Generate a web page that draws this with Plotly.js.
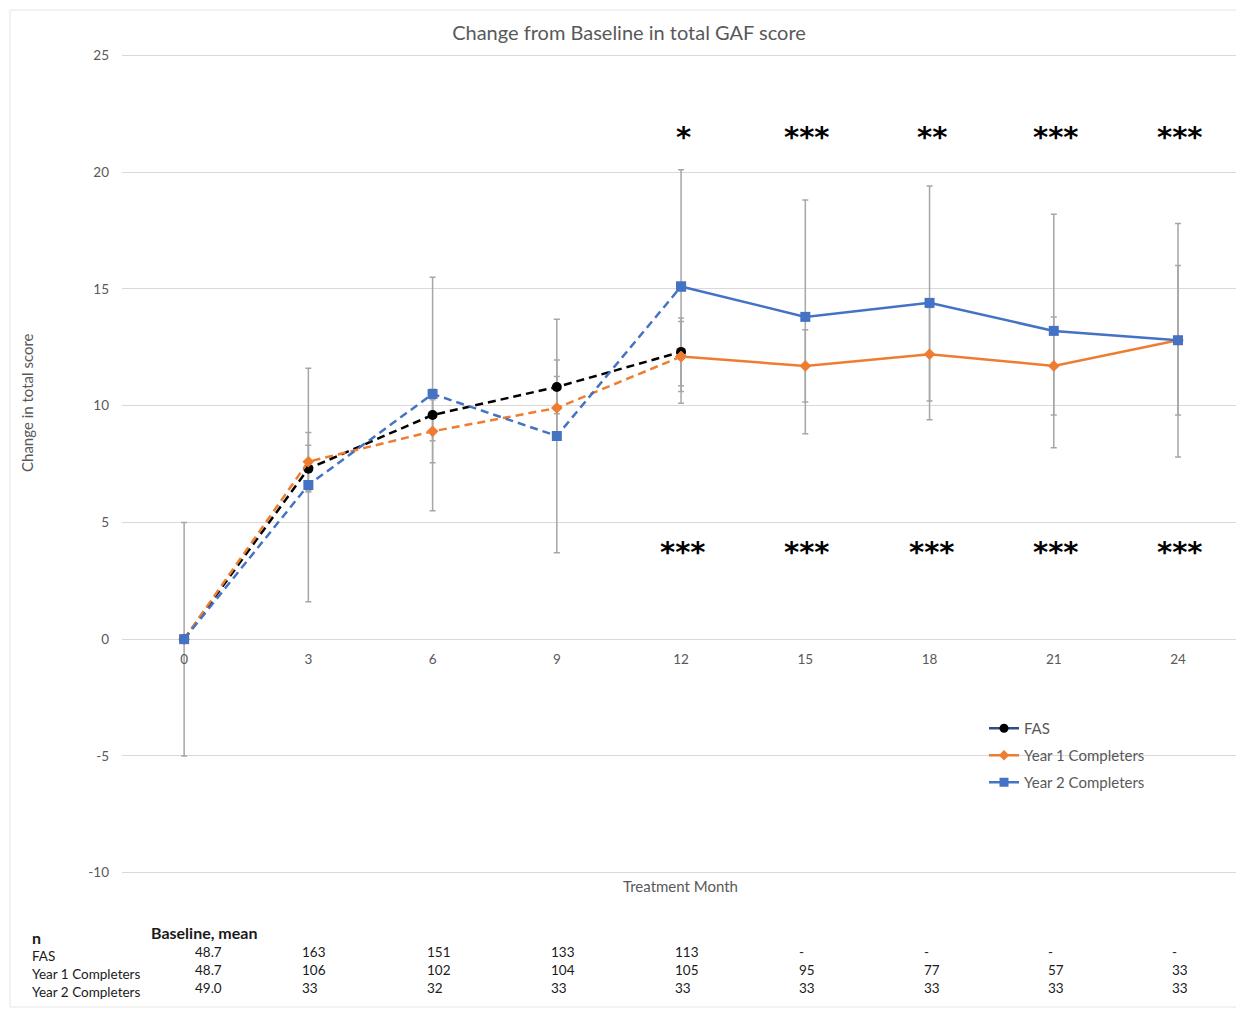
<!DOCTYPE html>
<html>
<head>
<meta charset="utf-8">
<script src="https://cdn.plot.ly/plotly-3.0.1.min.js"></script>
<style>
html,body{margin:0;padding:0;background:#fff;}
#chart{width:1236px;height:1009px;}
</style>
</head>
<body>
<div id="chart"></div>
<script>
// ---- data ----
const months = [0, 3, 6, 9, 12, 15, 18, 21, 24];
const fasMonths = [0, 3, 6, 9, 12];
const fasMean = [0, 7.3, 9.6, 10.8, 12.3];
const fasErr = [0, 1.0, 1.1, 1.15, 1.45];
const y1Mean = [0, 7.6, 8.9, 9.9, 12.1, 11.7, 12.2, 11.7, 12.8];
const y1Err = [0, 1.25, 1.35, 1.35, 1.5, 1.55, 2.0, 2.1, 3.2];
const y2Mean = [0, 6.6, 10.5, 8.7, 15.1, 13.8, 14.4, 13.2, 12.8];
const y2Err = [5.0, 5.0, 5.0, 5.0, 5.0, 5.0, 5.0, 5.0, 5.0];

const yTicks = [-10, -5, 0, 5, 10, 15, 20, 25];
const yTickText = ['-10', '-5', '0', '5', '10', '15', '20', '25'];

const sigMonths = [12, 15, 18, 21, 24];
const sigTop = ['*', '***', '**', '***', '***'];
const sigBottom = ['***', '***', '***', '***', '***'];

const tableRows = ['FAS', 'Year 1 Completers', 'Year 2 Completers'];
const baselineMean = ['48.7', '48.7', '49.0'];
const nMonths = [3, 6, 9, 12, 15, 18, 21, 24];
const nFAS = ['163', '151', '133', '113', '-', '-', '-', '-'];
const nY1 = ['106', '102', '104', '105', '95', '77', '57', '33'];
const nY2 = ['33', '32', '33', '33', '33', '33', '33', '33'];

// ---- styles ----
const FONT = 'Lato, "Open Sans", sans-serif';
const GRAY = '#595959';
const C_FAS = '#000000', C_Y1 = '#ED7D31', C_Y2 = '#4472C4';
const ERR_C = '#a6a6a6';
const DASH = '8px,5px';
const STAR_FONT = {family: '"DejaVu Sans", sans-serif', size: 29, color: '#000', weight: 'bold'};

// pixel helpers for paper coordinates (plot area: x 122..1236, y 53..875)
const PL = 122, PW = 1114, PT = 53, PH = 822;
const px = v => (v - PL) / PW;
const py = v => (PT + PH - v) / PH;

function errTrace(x, y, e) {
  return {
    x: x, y: y, type: 'scatter', mode: 'markers',
    marker: {size: 1, color: 'rgba(0,0,0,0)'},
    error_y: {type: 'data', array: e, visible: true, color: ERR_C, thickness: 1.5, width: 3},
    showlegend: false, hoverinfo: 'skip'
  };
}

const traces = [
  errTrace(months, y2Mean, y2Err),
  errTrace(months, y1Mean, y1Err),
  errTrace(fasMonths, fasMean, fasErr),
  {x: fasMonths, y: fasMean, type: 'scatter', mode: 'lines+markers',
   line: {color: C_FAS, width: 2.5, dash: DASH},
   marker: {symbol: 'circle', size: 10, color: C_FAS}, showlegend: false},
  {x: months.slice(0, 5), y: y1Mean.slice(0, 5), type: 'scatter', mode: 'lines+markers',
   line: {color: C_Y1, width: 2.5, dash: DASH},
   marker: {symbol: 'diamond', size: 9, color: C_Y1}, showlegend: false},
  {x: months.slice(4), y: y1Mean.slice(4), type: 'scatter', mode: 'lines+markers',
   line: {color: C_Y1, width: 2.5},
   marker: {symbol: 'diamond', size: 9, color: C_Y1}, showlegend: false},
  {x: months.slice(0, 5), y: y2Mean.slice(0, 5), type: 'scatter', mode: 'lines+markers',
   line: {color: C_Y2, width: 2.5, dash: DASH},
   marker: {symbol: 'square', size: 10, color: C_Y2}, showlegend: false},
  {x: months.slice(4), y: y2Mean.slice(4), type: 'scatter', mode: 'lines+markers',
   line: {color: C_Y2, width: 2.5},
   marker: {symbol: 'square', size: 10, color: C_Y2}, showlegend: false},
  {x: [null], y: [null], type: 'scatter', mode: 'lines+markers', name: 'FAS', legendgroup: 'a',
   line: {color: '#2f4b8c', width: 2.5}, marker: {symbol: 'circle', size: 9, color: C_FAS}},
  {x: [null], y: [null], type: 'scatter', mode: 'lines+markers', name: 'Year 1 Completers', legendgroup: 'b',
   line: {color: C_Y1, width: 2.5}, marker: {symbol: 'diamond', size: 8, color: C_Y1}},
  {x: [null], y: [null], type: 'scatter', mode: 'lines+markers', name: 'Year 2 Completers', legendgroup: 'c',
   line: {color: C_Y2, width: 2.5}, marker: {symbol: 'square', size: 9, color: C_Y2}}
];

const annotations = [];
sigMonths.forEach((m, i) => {
  annotations.push({x: m, y: 21.5, xref: 'x', yref: 'y', text: sigTop[i], showarrow: false,
    xanchor: 'center', yanchor: 'middle', font: STAR_FONT, xshift: 2});
  annotations.push({x: m, y: 3.75, xref: 'x', yref: 'y', text: sigBottom[i], showarrow: false,
    xanchor: 'center', yanchor: 'middle', font: STAR_FONT, xshift: 2});
});
annotations.push({x: px(27), y: py(403), xref: 'paper', yref: 'paper', text: 'Change in total score',
  textangle: -90, showarrow: false, xanchor: 'center', yanchor: 'middle',
  font: {family: FONT, size: 15, color: GRAY}});
annotations.push({x: px(680), y: py(886), xref: 'paper', yref: 'paper', text: 'Treatment Month',
  showarrow: false, xanchor: 'center', yanchor: 'middle', font: {family: FONT, size: 15, color: GRAY}});
const TF = {family: FONT, size: 13.5, color: '#1a1a1a'};
const HF = {family: FONT, size: 16, color: '#1a1a1a'};
annotations.push({x: px(30), y: py(937), xref: 'paper', yref: 'paper', text: '<b>n</b>', xanchor: 'left',
  yanchor: 'middle', showarrow: false, font: HF});
annotations.push({x: px(149), y: py(932), xref: 'paper', yref: 'paper', text: '<b>Baseline, mean</b>', xanchor: 'left',
  yanchor: 'middle', showarrow: false, font: HF});
const rowY = [956, 974, 992];
const valY = [952, 970, 988];
const nTable = [nFAS, nY1, nY2];
tableRows.forEach((r, i) => {
  annotations.push({x: px(30), y: py(rowY[i]), xref: 'paper', yref: 'paper', text: r, xanchor: 'left',
    yanchor: 'middle', showarrow: false, font: TF});
  annotations.push({x: px(193), y: py(valY[i]), xref: 'paper', yref: 'paper', text: baselineMean[i], xanchor: 'left',
    yanchor: 'middle', showarrow: false, font: TF});
  nMonths.forEach((m, j) => {
    annotations.push({x: m, y: py(valY[i]), xref: 'x', yref: 'paper', text: nTable[i][j], xanchor: 'left',
      yanchor: 'middle', xshift: -8, showarrow: false, font: TF});
  });
});

const layout = {
  width: 1236, height: 1009,
  margin: {l: PL, r: 0, t: PT, b: 1009 - PT - PH, pad: 0},
  paper_bgcolor: '#ffffff', plot_bgcolor: '#ffffff',
  font: {family: FONT, color: GRAY},
  title: {text: 'Change from Baseline in total GAF score', x: 629 / 1236, xanchor: 'center',
    y: 1 - 33 / 1009, yanchor: 'middle', font: {family: FONT, size: 20, color: GRAY}},
  xaxis: {range: [-1.5, 25.4], tickvals: months, ticktext: months.map(String), showgrid: false,
    zeroline: false, showline: false, ticks: '', anchor: 'free', position: 10.1 / 35.2,
    tickfont: {family: FONT, size: 13.5, color: GRAY}, ticklabelstandoff: 10, fixedrange: true},
  yaxis: {range: [-10.1, 25.1], tickvals: yTicks, ticktext: yTickText, showgrid: true, gridcolor: '#d9d9d9', gridwidth: 1,
    zeroline: false, showline: false, ticks: '', ticklabelstandoff: 12,
    tickfont: {family: FONT, size: 13.5, color: GRAY}, fixedrange: true},
  legend: {x: px(984), y: py(712), xanchor: 'left', yanchor: 'top', bgcolor: 'rgba(0,0,0,0)',
    font: {family: FONT, size: 15, color: GRAY}, tracegroupgap: 4.5, itemwidth: 30},
  annotations: annotations,
  shapes: [{type: 'rect', xref: 'paper', yref: 'paper', x0: px(10), x1: px(1245), y0: py(1007), y1: py(10),
    line: {color: '#e6e6e6', width: 1}, fillcolor: 'rgba(0,0,0,0)', layer: 'below'}],
  showlegend: true
};

Plotly.newPlot('chart', traces, layout, {displayModeBar: false, staticPlot: true});
</script>
</body>
</html>
